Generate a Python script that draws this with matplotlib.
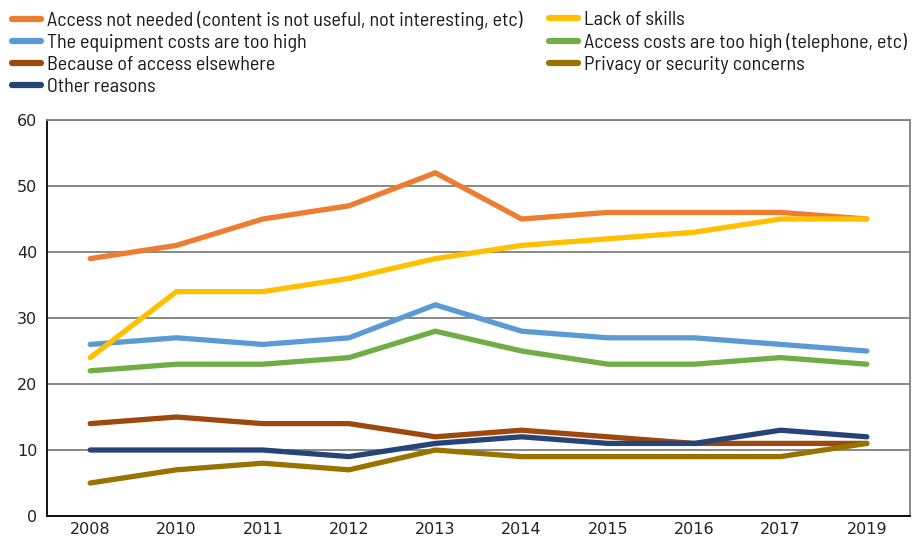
import matplotlib
matplotlib.use("Agg")
import matplotlib.pyplot as plt
from matplotlib.lines import Line2D
from matplotlib import font_manager

# Reasons for not having internet access at home (%)
years = ["2008", "2010", "2011", "2012", "2013", "2014", "2015", "2016", "2017", "2019"]

not_needed = [39, 41, 45, 47, 52, 45, 46, 46, 46, 45]
lack_skills = [24, 34, 34, 36, 39, 41, 42, 43, 45, 45]
equipment_costs = [26, 27, 26, 27, 32, 28, 27, 27, 26, 25]
access_costs = [22, 23, 23, 24, 28, 25, 23, 23, 24, 23]
access_elsewhere = [14, 15, 14, 14, 12, 13, 12, 11, 11, 11]
privacy = [5, 7, 8, 7, 10, 9, 9, 9, 9, 11]
other = [10, 10, 10, 9, 11, 12, 11, 11, 13, 12]

series = [
    ("Access not needed (content is not useful, not interesting, etc)", not_needed, "#ED7D31"),
    ("The equipment costs are too high", equipment_costs, "#5B9BD5"),
    ("Because of access elsewhere", access_elsewhere, "#9E480E"),
    ("Other reasons", other, "#264478"),
    ("Lack of skills", lack_skills, "#FFC000"),
    ("Access costs are too high (telephone, etc)", access_costs, "#70AD47"),
    ("Privacy or security concerns", privacy, "#997300"),
]
# drawing order (back to front) as in the original
draw_order = [3, 6, 2, 5, 1, 4, 0]


def find_face(names):
    # regular upright face of the first installed family in names
    for n in names:
        for f in font_manager.fontManager.ttflist:
            if f.name == n and f.style == "normal" and f.weight in (400, "normal", "regular"):
                return f.fname
    return None


face = find_face(["Barlow Semi Condensed", "Barlow Condensed", "DejaVu Sans"])
leg_font = font_manager.FontProperties(fname=face, size=14.5)
tick_font = font_manager.FontProperties(family="DejaVu Sans", size=11.5)

fig = plt.figure(figsize=(9.15, 5.43), dpi=100)
ax = fig.add_axes([0.0514, 0.0497, 0.9431, 0.7293])

x = range(len(years))
for i in draw_order:
    label, vals, col = series[i]
    ax.plot(x, vals, color=col, lw=3.8, solid_capstyle="round",
            solid_joinstyle="miter", zorder=3 + i * 0.1)

ax.set_xlim(-0.5, len(years) - 0.5)
ax.set_ylim(0, 60)
ax.set_yticks(range(0, 61, 10))
ax.set_xticks(list(x))
ax.set_xticklabels(years)
ax.tick_params(length=0, colors="#222222")
ax.tick_params(axis="x", pad=4)
ax.tick_params(axis="y", pad=7)
for t in ax.get_xticklabels() + ax.get_yticklabels():
    t.set_fontproperties(tick_font)
ax.yaxis.grid(True, color="#7f7f7f", lw=1.3)
ax.set_axisbelow(True)
for s in ["left", "bottom"]:
    ax.spines[s].set_color("black")
    ax.spines[s].set_linewidth(1.3)
for s in ["top", "right"]:
    ax.spines[s].set_color("#7f7f7f")
    ax.spines[s].set_linewidth(1.3)

handles = [Line2D([0], [0], color=c, lw=4.5, solid_capstyle="round") for _, _, c in series]
labels = [l for l, _, _ in series]

common = dict(loc="upper left", frameon=False, prop=leg_font, handlelength=1.45,
              handletextpad=0.3, labelspacing=0.19, borderaxespad=0, borderpad=0,
              labelcolor="#1a1a1a")
leg1 = fig.legend(handles[:4], labels[:4], bbox_to_anchor=(0.013, 0.98), **common)
leg2 = fig.legend(handles[4:], labels[4:], bbox_to_anchor=(0.600, 0.98), **common)

fig.savefig("out.png", dpi=100)
